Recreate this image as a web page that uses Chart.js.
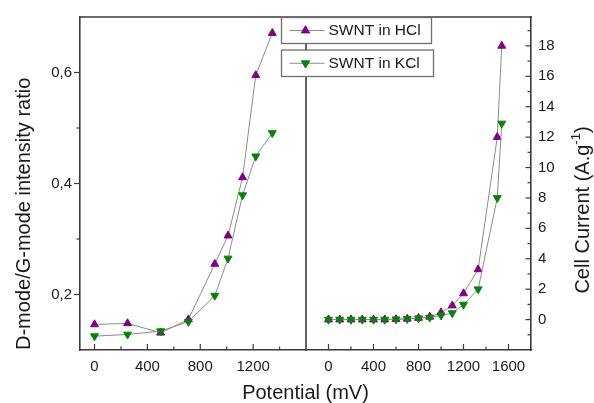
<!DOCTYPE html>
<html><head><meta charset="utf-8">
<script src="https://cdn.jsdelivr.net/npm/chart.js@4.4.1/dist/chart.umd.min.js"></script>
<style>html,body{margin:0;padding:0;background:#fff;}#wrap{position:relative;width:594px;height:403px;}canvas{display:block;}</style>
</head><body><div id="wrap"><canvas id="c" width="594" height="403"></canvas></div>
<script>
// ---- data ----
const seriesLabels = ['SWNT in HCl', 'SWNT in KCl'];
const leftPotential = [0, 250, 500, 710, 910, 1010, 1120, 1220, 1345];
const leftRatioHCl  = [0.146, 0.148, 0.131, 0.155, 0.255, 0.306, 0.411, 0.595, 0.671];
const leftRatioKCl  = [0.125, 0.128, 0.134, 0.151, 0.198, 0.265, 0.379, 0.449, 0.491];
const rightPotential = [0, 100, 200, 300, 400, 500, 600, 700, 800, 900, 1000, 1100, 1200, 1330, 1500, 1540];
const currentHCl = [0, 0, 0, 0, 0, 0, 0.02, 0.05, 0.1, 0.18, 0.46, 0.92, 1.72, 3.3, 12.0, 18.0];
const currentKCl = [0, 0, 0, 0, 0, 0, 0.02, 0.05, 0.09, 0.14, 0.28, 0.43, 0.99, 2.0, 8.0, 12.9];
// ---- ticks ----
const leftXMajor = [0, 400, 800, 1200];
const leftXMinor = [200, 600, 1000, 1400];
const rightXMajor = [0, 400, 800, 1200, 1600];
const rightXMinor = [200, 600, 1000, 1400];
const leftYMajor = [0.2, 0.4, 0.6];
const leftYMinor = [0.3, 0.5];
const rightYMajor = [0, 2, 4, 6, 8, 10, 12, 14, 16, 18];
const rightYMinor = [-1, 1, 3, 5, 7, 9, 11, 13, 15, 17, 19];
const xTitle = 'Potential (mV)';
const leftYTitle = 'D-mode/G-mode intensity ratio';
const rightYTitle = ['Cell Current (A.g', '-1', ')'];

const FONT = "'Liberation Sans', Arial, sans-serif";
const TEXT = '#1a1a1a';
const AXIS = '#3a3a3a';
const PURPLE = '#800080';
const GREEN = '#0a800a';
const LINE = '#8c8c8c';

Chart.defaults.font.family = FONT;
Chart.defaults.color = TEXT;

const pts = (xs, ys) => xs.map((x, i) => ({x: x, y: ys[i]}));
const setTicks = vals => (s => { s.ticks = vals.map(v => ({value: v})); });

function series(label, xs, ys, xId, yId, color, rot, order) {
  return {
    label: label, data: pts(xs, ys), xAxisID: xId, yAxisID: yId,
    borderColor: LINE, borderWidth: 1, tension: 0, fill: false,
    pointStyle: 'triangle', pointRotation: rot, pointRadius: 4.6, pointHoverRadius: 4.6,
    pointBackgroundColor: color, pointBorderColor: color, pointBorderWidth: 1, order: order
  };
}

const xAxisBase = {
  type: 'linear', position: 'bottom', stack: 'potential',
  grid: {display: false, drawTicks: false},
  border: {display: true, color: AXIS, width: 1.6},
  ticks: {font: {size: 15}, color: TEXT, padding: 8, maxRotation: 0, autoSkip: false, callback: v => String(v)},
  afterFit: s => { s.height = 24; }
};

function line(ctx, x1, y1, x2, y2) { ctx.beginPath(); ctx.moveTo(x1, y1); ctx.lineTo(x2, y2); ctx.stroke(); }

const framePlugin = {
  id: 'frame',
  afterDatasetsDraw(chart) {
    const {ctx, chartArea: a, scales: s} = chart;
    ctx.save();
    ctx.strokeStyle = AXIS;
    ctx.lineWidth = 1.6;
    line(ctx, a.left - 0.8, a.top, a.right + 0.8, a.top);
    const dx = s.xL.right;
    line(ctx, dx, a.top, dx, a.bottom);
    ctx.lineWidth = 1.2;
    // x ticks inward
    const xt = (sc, vals, len) => vals.forEach(v => { const p = sc.getPixelForValue(v); line(ctx, p, a.bottom, p, a.bottom - len); });
    xt(s.xL, leftXMajor, 6); xt(s.xL, leftXMinor, 3.5);
    xt(s.xR, rightXMajor, 6); xt(s.xR, rightXMinor, 3.5);
    // left y ticks outward
    leftYMajor.forEach(v => { const p = s.yL.getPixelForValue(v); line(ctx, a.left, p, a.left - 6, p); });
    leftYMinor.forEach(v => { const p = s.yL.getPixelForValue(v); line(ctx, a.left, p, a.left - 3.5, p); });
    // right y ticks inward
    rightYMajor.forEach(v => { const p = s.yR.getPixelForValue(v); line(ctx, a.right, p, a.right - 5.5, p); });
    rightYMinor.forEach(v => { const p = s.yR.getPixelForValue(v); line(ctx, a.right, p, a.right - 3.5, p); });
    ctx.restore();
  },
  afterDraw(chart) {
    const {ctx, chartArea: a} = chart;
    // right axis title (reads bottom-to-top)
    ctx.save();
    ctx.fillStyle = TEXT;
    ctx.translate(583, 210);
    ctx.rotate(-Math.PI / 2);
    ctx.textBaseline = 'middle';
    const big = '20px ' + FONT, small = '13px ' + FONT;
    ctx.font = big; const w1 = ctx.measureText(rightYTitle[0]).width; const w3 = ctx.measureText(rightYTitle[2]).width;
    ctx.font = small; const w2 = ctx.measureText(rightYTitle[1]).width;
    let x = -(w1 + w2 + w3) / 2;
    ctx.font = big; ctx.textAlign = 'left';
    ctx.fillText(rightYTitle[0], x, 0); x += w1;
    ctx.font = small; ctx.fillText(rightYTitle[1], x, -7); x += w2;
    ctx.font = big; ctx.fillText(rightYTitle[2], x, 0);
    ctx.restore();

    // legend: two separate boxes
    const boxes = [{x: 281.5, y: 17.5, w: 150, h: 26, ds: 0, rot: 0}, {x: 281.5, y: 50, w: 152, h: 26.5, ds: 1, rot: 180}];
    ctx.save();
    boxes.forEach(b => {
      const d = chart.data.datasets[b.ds];
      ctx.fillStyle = '#fff';
      ctx.fillRect(b.x, b.y, b.w, b.h);
      ctx.strokeStyle = '#6e6e6e';
      ctx.lineWidth = 1.3;
      ctx.strokeRect(b.x, b.y, b.w, b.h);
      const cy = b.y + b.h / 2;
      ctx.strokeStyle = LINE; ctx.lineWidth = 1;
      line(ctx, b.x + 8, cy, b.x + 43, cy);
      ctx.fillStyle = d.pointBackgroundColor; ctx.strokeStyle = d.pointBorderColor;
      Chart.helpers.drawPoint(ctx, {pointStyle: 'triangle', rotation: b.rot, radius: 4.8, borderWidth: 1}, b.x + 24, cy);
      ctx.fillStyle = TEXT;
      ctx.font = '15.5px ' + FONT;
      ctx.textAlign = 'left'; ctx.textBaseline = 'middle';
      ctx.fillText(d.label, b.x + 47, cy + 0.5);
    });
    ctx.restore();
  }
};

new Chart(document.getElementById('c'), {
  type: 'line',
  data: {
    datasets: [
      series(seriesLabels[0], leftPotential, leftRatioHCl, 'xL', 'yL', PURPLE, 0, 1),
      series(seriesLabels[1], leftPotential, leftRatioKCl, 'xL', 'yL', GREEN, 180, 0),
      series(seriesLabels[0], rightPotential, currentHCl, 'xR', 'yR', PURPLE, 0, 1),
      series(seriesLabels[1], rightPotential, currentKCl, 'xR', 'yR', GREEN, 180, 0)
    ]
  },
  options: {
    responsive: false, animation: false, devicePixelRatio: 1,
    layout: {padding: {top: 14, left: 0, right: 0, bottom: 0}},
    plugins: {
      legend: {display: false}, tooltip: {enabled: false},
      title: {display: true, text: xTitle, position: 'bottom', fullSize: false, color: TEXT,
              font: {size: 20, weight: 'normal', lineHeight: 1.0}, padding: {top: 9, bottom: 0}}
    },
    scales: {
      xL: Object.assign({}, xAxisBase, {min: -110, max: 1600, stackWeight: 226, afterBuildTicks: setTicks(leftXMajor)}),
      xR: Object.assign({}, xAxisBase, {min: -200, max: 1800, stackWeight: 225, afterBuildTicks: setTicks(rightXMajor)}),
      yL: {
        type: 'linear', position: 'left', min: 0.1, max: 0.7,
        afterBuildTicks: setTicks(leftYMajor),
        grid: {display: false, drawTicks: false},
        border: {display: true, color: AXIS, width: 1.6},
        ticks: {font: {size: 15}, color: TEXT, padding: 8, autoSkip: false, callback: v => v.toFixed(1).replace('.', ',')},
        title: {display: true, text: leftYTitle, align: 'start', color: TEXT, font: {size: 20}, padding: {top: 12, bottom: 0}},
        afterFit: s => { s.width = 80; }
      },
      yR: {
        type: 'linear', position: 'right', min: -2, max: 19.9,
        afterBuildTicks: setTicks(rightYMajor),
        grid: {display: false, drawTicks: false},
        border: {display: true, color: AXIS, width: 1.6},
        ticks: {font: {size: 15}, color: TEXT, padding: 7, autoSkip: false, callback: v => String(v)},
        afterFit: s => { s.width = 63; }
      }
    }
  },
  plugins: [framePlugin]
});
</script></body></html>
